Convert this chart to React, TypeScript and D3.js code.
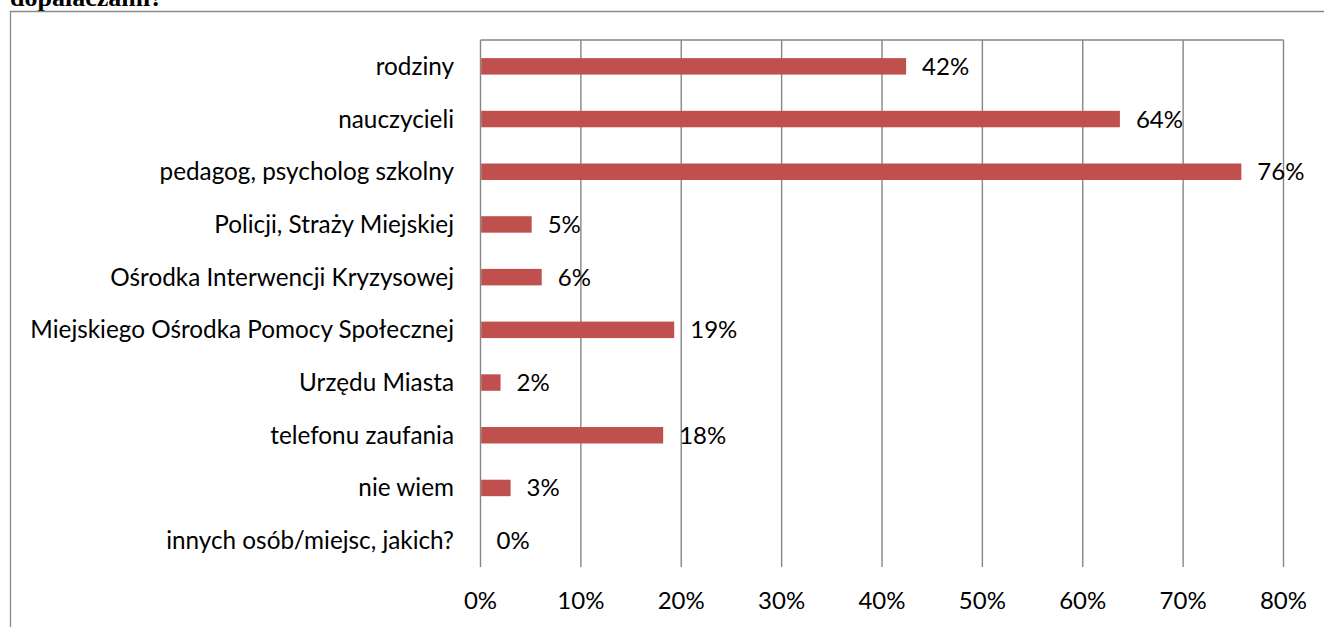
import { useEffect, useRef } from "react"
import * as d3 from "d3"

const categories = [
  "rodziny",
  "nauczycieli",
  "pedagog, psycholog szkolny",
  "Policji, Straży Miejskiej",
  "Ośrodka Interwencji Kryzysowej",
  "Miejskiego Ośrodka Pomocy Społecznej",
  "Urzędu Miasta",
  "telefonu zaufania",
  "nie wiem",
  "innych osób/miejsc, jakich?",
]
const values = [42.4, 63.7, 75.8, 5.1, 6.1, 19.3, 2.0, 18.2, 3.0, 0]
const valueLabels = ["42%", "64%", "76%", "5%", "6%", "19%", "2%", "18%", "3%", "0%"]
const xTicks = [0, 10, 20, 30, 40, 50, 60, 70, 80]

const W = 1324
const H = 627
const FONT = "Lato, Carlito, Calibri, sans-serif"

export default function App() {
  const svgRef = useRef<SVGSVGElement>(null)

  useEffect(() => {
    if (!svgRef.current) return
    const svg = d3.select(svgRef.current)
    svg.selectAll("*").remove()

    const plot = { left: 480.5, right: 1283.5, top: 40, bottom: 567 }

    // heading from the page above, cut by the top edge
    svg.append("text")
      .attr("x", 10)
      .attr("y", 6)
      .attr("font-family", "'Liberation Serif', 'Times New Roman', serif")
      .attr("font-weight", "bold")
      .attr("font-size", 26)
      .attr("fill", "#000")
      .text("dopalaczami?")

    // chart frame (only top and left edges are visible)
    svg.append("path")
      .attr("d", `M10.5,${H} V11.5 H${W}`)
      .attr("fill", "none")
      .attr("stroke", "#8a8a8a")
      .attr("stroke-width", 1.3)

    const x = d3.scaleLinear().domain([0, 80]).range([plot.left, plot.right])
    const y = d3.scaleBand<string>()
      .domain(categories)
      .range([plot.top, plot.bottom])
      .paddingInner(0.6875)
      .paddingOuter(0.34375)

    const g = svg.append("g")

    // vertical gridlines
    g.selectAll("line.grid")
      .data(xTicks)
      .join("line")
      .attr("class", "grid")
      .attr("x1", (d) => x(d))
      .attr("x2", (d) => x(d))
      .attr("y1", plot.top)
      .attr("y2", plot.bottom)
      .attr("stroke", "#868686")
      .attr("stroke-width", 1.4)

    // top border of plot
    g.append("line")
      .attr("x1", plot.left)
      .attr("x2", plot.right)
      .attr("y1", plot.top)
      .attr("y2", plot.top)
      .attr("stroke", "#868686")
      .attr("stroke-width", 1.4)

    // bars
    g.selectAll("rect.bar")
      .data(categories)
      .join("rect")
      .attr("class", "bar")
      .attr("x", x(0) + 0.7)
      .attr("y", (d) => y(d)!)
      .attr("width", (d, i) => Math.max(0, x(values[i]) - x(0) - 0.7))
      .attr("height", y.bandwidth())
      .attr("fill", "#C0504D")

    // value labels
    g.selectAll("text.val")
      .data(categories)
      .join("text")
      .attr("class", "val")
      .attr("x", (d, i) => x(values[i]) + 16)
      .attr("y", (d) => y(d)! + y.bandwidth() / 2 + 8.5)
      .attr("font-family", FONT)
      .attr("font-size", 24)
      .attr("fill", "#000")
      .text((d, i) => valueLabels[i])

    // category labels
    g.selectAll("text.cat")
      .data(categories)
      .join("text")
      .attr("class", "cat")
      .attr("x", 454)
      .attr("y", (d) => y(d)! + y.bandwidth() / 2 + 8.5)
      .attr("text-anchor", "end")
      .attr("font-family", FONT)
      .attr("font-size", 24.3)
      .attr("fill", "#000")
      .text((d) => d)

    // x tick labels
    g.selectAll("text.tick")
      .data(xTicks)
      .join("text")
      .attr("class", "tick")
      .attr("x", (d) => x(d))
      .attr("y", 609)
      .attr("text-anchor", "middle")
      .attr("font-family", FONT)
      .attr("font-size", 24)
      .attr("fill", "#000")
      .text((d) => `${d}%`)
  }, [])

  return (
    <svg
      ref={svgRef}
      width={W}
      height={H}
      style={{ position: "absolute", left: 0, top: 0, background: "#fff" }}
    />
  )
}
